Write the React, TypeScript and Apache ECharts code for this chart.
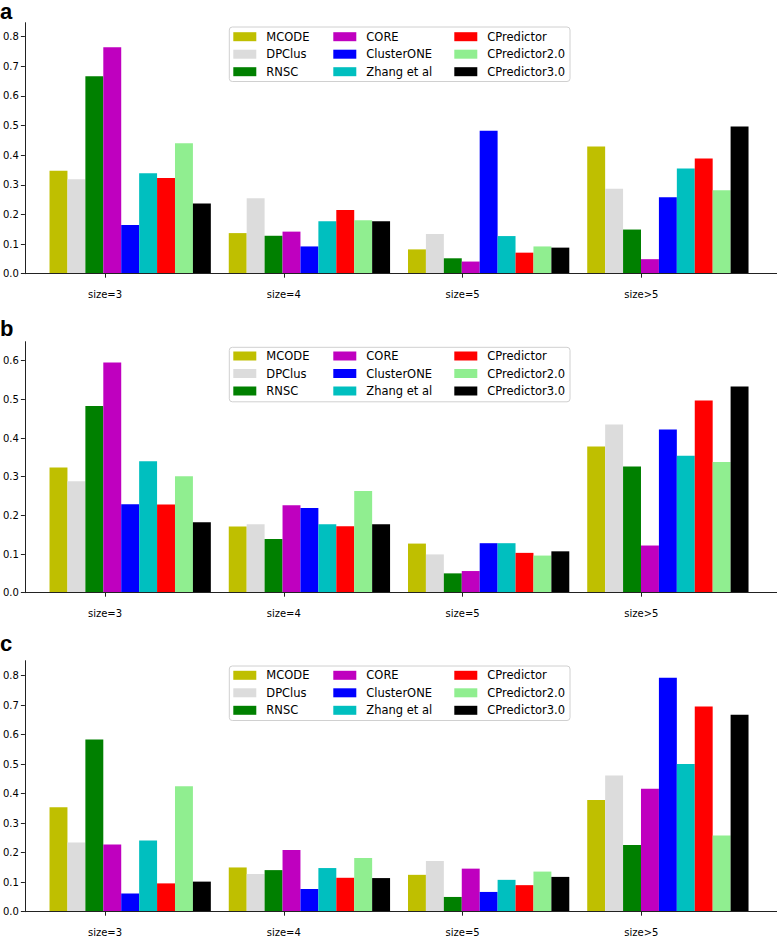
import React, { useEffect, useRef } from "react";
import * as echarts from "echarts";

// ---- data ----
const categories = ["size=3", "size=4", "size=5", "size>5"];
const methods = ["MCODE", "DPClus", "RNSC", "CORE", "ClusterONE", "Zhang et al", "CPredictor", "CPredictor2.0", "CPredictor3.0"];
const methodColors = ["#bfbf00", "#dcdcdc", "#008000", "#bf00bf", "#0000ff", "#00bfbf", "#ff0000", "#90ee90", "#000000"];
const panelLabels = ["a", "b", "c"];
const yTickValues = [0, 0.1, 0.2, 0.3, 0.4, 0.5, 0.6, 0.7, 0.8];
const xTickValues = [0, 1, 2, 3];

// one row per method, one value per category
const panelAValues = [
  [0.347, 0.137, 0.082, 0.429],
  [0.319, 0.255, 0.134, 0.287],
  [0.666, 0.128, 0.052, 0.149],
  [0.764, 0.142, 0.041, 0.049],
  [0.164, 0.092, 0.482, 0.258],
  [0.339, 0.177, 0.127, 0.355],
  [0.323, 0.215, 0.071, 0.389],
  [0.440, 0.180, 0.092, 0.282],
  [0.237, 0.177, 0.088, 0.497],
];
const panelBValues = [
  [0.324, 0.171, 0.127, 0.378],
  [0.288, 0.177, 0.099, 0.435],
  [0.483, 0.139, 0.050, 0.326],
  [0.595, 0.226, 0.056, 0.122],
  [0.229, 0.219, 0.128, 0.422],
  [0.340, 0.177, 0.128, 0.354],
  [0.228, 0.172, 0.103, 0.497],
  [0.301, 0.263, 0.096, 0.338],
  [0.182, 0.177, 0.107, 0.533],
];
const panelCValues = [
  [0.354, 0.150, 0.125, 0.379],
  [0.235, 0.128, 0.172, 0.462],
  [0.584, 0.141, 0.050, 0.226],
  [0.228, 0.209, 0.146, 0.417],
  [0.062, 0.077, 0.067, 0.793],
  [0.241, 0.148, 0.108, 0.501],
  [0.096, 0.115, 0.090, 0.696],
  [0.425, 0.182, 0.136, 0.258],
  [0.102, 0.114, 0.118, 0.668],
];
const panelValues = [panelAValues, panelBValues, panelCValues];
const panelYMax = [0.847, 0.649, 0.851];

// ---- layout ----
const W = 777;
const H = 938;
const panelTop = [22.7, 341.7, 660.7];
const panelHeight = 251;
const labelBaseline = [14.5, 333.3, 648.3];
const legendBoxTop = [27, 347.3, 666];
const legendRow1 = [36.7, 356, 675.3];
const legendCols = [233.3, 333.3, 454.3];
const FONT = "DejaVu Sans";
const AXIS_COLOR = "#222";

const CAT_W = 179.23; // px per category
const FIRST_TICK = 103.3; // px of first category tick
const AXIS_LEFT = 23;
const BAR_W = (CAT_W * 0.9) / 9;
const GROUP_SHIFT = 1.5 * BAR_W; // bars are drawn offset to the right of the tick

function buildOption() {
  const grid: any[] = [];
  const xAxis: any[] = [];
  const yAxis: any[] = [];
  const series: any[] = [];
  const legend: any[] = [];
  const graphic: any[] = [];

  const xMin = (AXIS_LEFT - FIRST_TICK) / CAT_W;
  const xMax = (W - FIRST_TICK) / CAT_W;

  panelValues.forEach((vals, p) => {
    const top = panelTop[p];
    // bar grid
    grid.push({ left: FIRST_TICK + GROUP_SHIFT - CAT_W / 2, width: CAT_W * 4, top, height: panelHeight, containLabel: false });
    // axis grid
    grid.push({ left: AXIS_LEFT, right: 0, top, height: panelHeight, containLabel: false });

    xAxis.push({
      type: "category",
      gridIndex: 2 * p,
      data: categories,
      show: false,
    });
    xAxis.push({
      type: "value",
      gridIndex: 2 * p + 1,
      min: xMin,
      max: xMax,
      axisLine: { show: true, onZero: false, lineStyle: { color: AXIS_COLOR, width: 1 } },
      axisTick: { show: true, length: 4, customValues: xTickValues, lineStyle: { color: AXIS_COLOR, width: 1 } },
      axisLabel: {
        show: true,
        customValues: xTickValues,
        formatter: (v: number) => categories[Math.round(v)] ?? "",
        color: "#000",
        fontFamily: FONT,
        fontSize: 10,
        margin: 16,
      },
      splitLine: { show: false },
      z: 5,
    });
    yAxis.push({
      type: "value",
      gridIndex: 2 * p,
      min: 0,
      max: panelYMax[p],
      show: false,
      splitLine: { show: false },
    });
    const yt = yTickValues.filter((v) => v <= panelYMax[p]);
    yAxis.push({
      type: "value",
      gridIndex: 2 * p + 1,
      min: 0,
      max: panelYMax[p],
      interval: 0.1,
      axisLine: { show: true, onZero: false, lineStyle: { color: AXIS_COLOR, width: 1 } },
      axisTick: { show: true, length: 4, customValues: yt, lineStyle: { color: AXIS_COLOR, width: 1 } },
      axisLabel: {
        customValues: yt,
        formatter: (v: number) => v.toFixed(1),
        color: "#000",
        fontFamily: FONT,
        fontSize: 10,
        margin: 6,
      },
      splitLine: { show: false },
      z: 5,
    });

    methods.forEach((m, i) => {
      series.push({
        type: "bar",
        name: m,
        xAxisIndex: 2 * p,
        yAxisIndex: 2 * p,
        data: vals[i],
        barGap: "0%",
        barCategoryGap: "10%",
        itemStyle: { color: methodColors[i] },
        emphasis: { disabled: true },
        z: 2,
      });
    });

    // legend (3 columns)
    for (let c = 0; c < 3; c++) {
      legend.push({
        orient: "vertical",
        left: legendCols[c],
        top: legendRow1[p] - 6,
        padding: 0,
        itemWidth: 23,
        itemHeight: 9,
        itemGap: 5.5,
        icon: "rect",
        selectedMode: false,
        data: methods.slice(c * 3, c * 3 + 3),
        textStyle: { color: "#000", fontFamily: FONT, fontSize: 11.5, lineHeight: 12, padding: [0, 0, 0, 5] },
        z: 10,
      });
    }

    graphic.push({
      type: "rect",
      shape: { x: 229.3, y: legendBoxTop[p], width: 340.7, height: 54.5, r: 3 },
      style: { fill: "rgba(255,255,255,0.8)", stroke: "#d0d0d0", lineWidth: 1 },
      z: 8,
      silent: true,
    });
    graphic.push({
      type: "text",
      left: 0,
      top: Math.max(0, labelBaseline[p] - 15.4),
      style: { text: panelLabels[p], fontFamily: "Liberation Sans", fontWeight: "bold", fontSize: 22, lineHeight: 16, fill: "#000" },
      z: 10,
    });
  });

  return {
    animation: false,
    backgroundColor: "#fff",
    grid,
    xAxis,
    yAxis,
    series,
    legend,
    graphic,
  };
}

export default function App() {
  const ref = useRef<HTMLDivElement>(null);
  useEffect(() => {
    if (!ref.current) return;
    const chart = echarts.init(ref.current, undefined, { renderer: "svg", width: W, height: H });
    chart.setOption(buildOption() as any);
    return () => chart.dispose();
  }, []);
  return <div ref={ref} style={{ position: "absolute", left: 0, top: 0, width: W, height: H }} />;
}
